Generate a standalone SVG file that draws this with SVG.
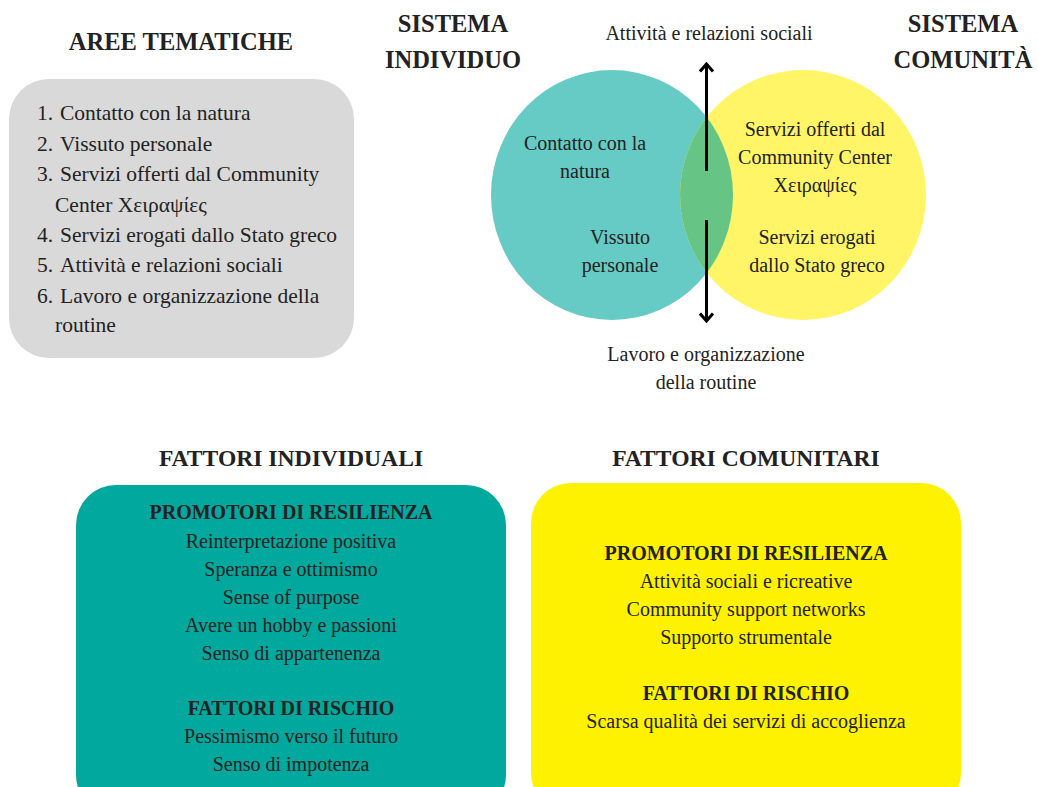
<svg xmlns="http://www.w3.org/2000/svg" width="1038" height="787" viewBox="0 0 1038 787">
<style>
text{font-family:"Liberation Serif","DejaVu Serif",serif;fill:#222}
.h{font-weight:bold;font-size:24.5px;text-anchor:middle}
.hb{font-weight:bold;font-size:23.6px;text-anchor:middle}
.hs{font-weight:bold;font-size:20px;text-anchor:middle}
.t{font-size:21.5px}
.c{font-size:20px;text-anchor:middle}
</style>
<defs>
<marker id="ah" viewBox="-10 -8 12 16" refX="0" refY="0" markerWidth="12" markerHeight="16" markerUnits="userSpaceOnUse" orient="auto-start-reverse">
<path d="M-7.5,-6.5 L0,0 L-7.5,6.5" fill="none" stroke="#000" stroke-width="3"/>
</marker>
<clipPath id="cl"><ellipse cx="612" cy="195" rx="121" ry="125"/></clipPath>
</defs>
<rect width="1038" height="787" fill="#fff"/>

<g id="aree">
<text class="h" x="181" y="50">AREE TEMATICHE</text>
<rect x="9" y="79" width="345" height="279" rx="40" fill="#d9d9d9"/>
<text class="t" y="120"><tspan x="37">1.</tspan><tspan x="60">Contatto con la natura</tspan></text>
<text class="t" y="151"><tspan x="37">2.</tspan><tspan x="60">Vissuto personale</tspan></text>
<text class="t" y="181"><tspan x="37">3.</tspan><tspan x="60">Servizi offerti dal Community</tspan></text>
<text class="t" x="55" y="212">Center Χειραψίες</text>
<text class="t" y="242"><tspan x="37">4.</tspan><tspan x="60">Servizi erogati dallo Stato greco</tspan></text>
<text class="t" y="272"><tspan x="37">5.</tspan><tspan x="60">Attività e relazioni sociali</tspan></text>
<text class="t" y="303"><tspan x="37">6.</tspan><tspan x="60">Lavoro e organizzazione della</tspan></text>
<text class="t" x="55" y="332">routine</text>
</g>

<g id="sistema-individuo">
<text class="h" x="453" y="32">SISTEMA</text>
<text class="h" x="453" y="68">INDIVIDUO</text>
</g>
<g id="sistema-comunita">
<text class="h" x="963" y="32">SISTEMA</text>
<text class="h" x="963" y="68">COMUNITÀ</text>
</g>

<g id="venn">
<ellipse cx="612" cy="195" rx="121" ry="125" fill="#66cbc4"/>
<ellipse cx="803" cy="195" rx="123" ry="125" fill="#fff566"/>
<ellipse cx="803" cy="195" rx="123" ry="125" fill="#66c584" clip-path="url(#cl)"/>
<text class="c" x="585" y="150">Contatto con la</text>
<text class="c" x="585" y="178">natura</text>
<text class="c" x="620" y="244">Vissuto</text>
<text class="c" x="620" y="272">personale</text>
<text class="c" x="815" y="136">Servizi offerti dal</text>
<text class="c" x="815" y="164">Community Center</text>
<text class="c" x="815" y="192">Χειραψίες</text>
<text class="c" x="817" y="244">Servizi erogati</text>
<text class="c" x="817" y="272">dallo Stato greco</text>
</g>

<g id="labels">
<text class="c" x="709" y="40">Attività e relazioni sociali</text>
<text class="c" x="706" y="361">Lavoro e organizzazione</text>
<text class="c" x="706" y="389">della routine</text>
</g>

<g id="connectors" stroke="#000" stroke-width="3" fill="none">
<line x1="706.5" y1="171" x2="706.5" y2="64" marker-end="url(#ah)"/>
<line x1="706.5" y1="220" x2="706.5" y2="321" marker-end="url(#ah)"/>
</g>

<g id="fattori-individuali">
<text class="hb" x="291" y="466">FATTORI INDIVIDUALI</text>
<rect x="76" y="485" width="430" height="330" rx="40" fill="#00a89d"/>
<text class="hs" x="291" y="519">PROMOTORI DI RESILIENZA</text>
<text class="c" x="291" y="548">Reinterpretazione positiva</text>
<text class="c" x="291" y="576">Speranza e ottimismo</text>
<text class="c" x="291" y="604">Sense of purpose</text>
<text class="c" x="291" y="632">Avere un hobby e passioni</text>
<text class="c" x="291" y="660">Senso di appartenenza</text>
<text class="hs" x="291" y="715">FATTORI DI RISCHIO</text>
<text class="c" x="291" y="743">Pessimismo verso il futuro</text>
<text class="c" x="291" y="771">Senso di impotenza</text>
</g>

<g id="fattori-comunitari">
<text class="hb" x="746" y="466">FATTORI COMUNITARI</text>
<rect x="531" y="483" width="430" height="330" rx="40" fill="#fff200"/>
<text class="hs" x="746" y="560">PROMOTORI DI RESILIENZA</text>
<text class="c" x="746" y="588">Attività sociali e ricreative</text>
<text class="c" x="746" y="616">Community support networks</text>
<text class="c" x="746" y="644">Supporto strumentale</text>
<text class="hs" x="746" y="700">FATTORI DI RISCHIO</text>
<text class="c" x="746" y="728">Scarsa qualità dei servizi di accoglienza</text>
</g>
</svg>
